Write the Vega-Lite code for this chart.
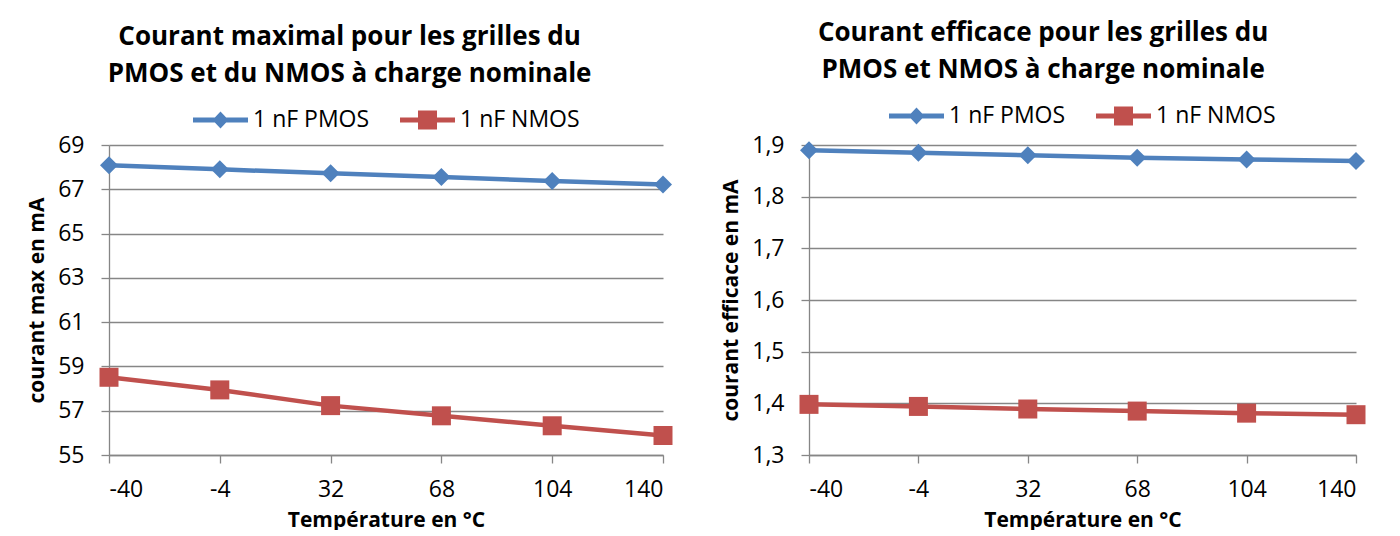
{
  "$schema": "https://vega.github.io/schema/vega-lite/v6.json",
  "padding": {"left": 26, "top": 20, "right": 0, "bottom": 0},
  "background": "white",
  "datasets": {
    "max": [
      {"temperature": -40, "courant": 68.09, "serie": "1 nF PMOS"},
      {"temperature": -4, "courant": 67.9, "serie": "1 nF PMOS"},
      {"temperature": 32, "courant": 67.72, "serie": "1 nF PMOS"},
      {"temperature": 68, "courant": 67.55, "serie": "1 nF PMOS"},
      {"temperature": 104, "courant": 67.37, "serie": "1 nF PMOS"},
      {"temperature": 140, "courant": 67.22, "serie": "1 nF PMOS"},
      {"temperature": -40, "courant": 58.51, "serie": "1 nF NMOS"},
      {"temperature": -4, "courant": 57.94, "serie": "1 nF NMOS"},
      {"temperature": 32, "courant": 57.23, "serie": "1 nF NMOS"},
      {"temperature": 68, "courant": 56.77, "serie": "1 nF NMOS"},
      {"temperature": 104, "courant": 56.32, "serie": "1 nF NMOS"},
      {"temperature": 140, "courant": 55.88, "serie": "1 nF NMOS"}
    ],
    "eff": [
      {"temperature": -40, "courant": 1.890, "serie": "1 nF PMOS"},
      {"temperature": -4, "courant": 1.885, "serie": "1 nF PMOS"},
      {"temperature": 32, "courant": 1.880, "serie": "1 nF PMOS"},
      {"temperature": 68, "courant": 1.8755, "serie": "1 nF PMOS"},
      {"temperature": 104, "courant": 1.872, "serie": "1 nF PMOS"},
      {"temperature": 140, "courant": 1.869, "serie": "1 nF PMOS"},
      {"temperature": -40, "courant": 1.398, "serie": "1 nF NMOS"},
      {"temperature": -4, "courant": 1.394, "serie": "1 nF NMOS"},
      {"temperature": 32, "courant": 1.389, "serie": "1 nF NMOS"},
      {"temperature": 68, "courant": 1.385, "serie": "1 nF NMOS"},
      {"temperature": 104, "courant": 1.381, "serie": "1 nF NMOS"},
      {"temperature": 140, "courant": 1.378, "serie": "1 nF NMOS"}
    ]
  },
  "spacing": 47,
  "resolve": {"scale": {"color": "independent", "y": "independent", "x": "independent"}, "legend": {"color": "independent"}},
  "hconcat": [
    {
      "width": 554,
      "height": 310,
      "data": {"name": "max"},
      "title": {"text": ["Courant maximal pour les grilles du", "PMOS et du NMOS à charge nominale"]},
      "encoding": {
        "x": {"field": "temperature", "type": "quantitative", "scale": {"domain": [-40, 140], "nice": false, "zero": false},
              "axis": {"values": [-40, -4, 32, 68, 104, 140], "title": "Température en °C", "grid": false, "labelExpr": "'' + datum.value"}},
        "y": {"field": "courant", "type": "quantitative", "scale": {"domain": [55, 69], "nice": false, "zero": false},
              "axis": {"values": [55, 57, 59, 61, 63, 65, 67, 69], "title": "courant max en mA"}},
        "color": {"field": "serie", "type": "nominal", "sort": ["1 nF PMOS", "1 nF NMOS"],
                  "scale": {"domain": ["1 nF PMOS", "1 nF NMOS"], "range": ["#4F81BD", "#C0504D"]},
                  "legend": {
                    "encode": {"symbols": {"update": {
                      "shape": {"signal": "datum.value === '1 nF PMOS' ? 'M-1,-0.167L0.457,-0.167L0.833,-0.567L1.209,-0.167L2.667,-0.167L2.667,0.167L1.209,0.167L0.833,0.567L0.457,0.167L-1,0.167Z' : 'M-1,-0.167L0.2,-0.167L0.2,-0.633L1.467,-0.633L1.467,-0.167L2.667,-0.167L2.667,0.167L1.467,0.167L1.467,0.633L0.2,0.633L0.2,0.167L-1,0.167Z'"},
                      "fill": {"signal": "datum.value === '1 nF PMOS' ? '#4F81BD' : '#C0504D'"},
                      "fillOpacity": {"value": 1},
                      "opacity": {"value": 1},
                      "strokeWidth": {"value": 0}
                    }}}
                  }}
      },
      "layer": [
        {"mark": {"type": "line", "strokeWidth": 4.5}},
        {"transform": [{"filter": "datum.serie === '1 nF PMOS'"}],
         "mark": {"type": "point", "filled": true, "opacity": 1, "size": 400, "shape": "M0,-0.9L0.9,0L0,0.9L-0.9,0Z"}},
        {"transform": [{"filter": "datum.serie === '1 nF NMOS'"}],
         "mark": {"type": "point", "filled": true, "opacity": 1, "size": 400, "shape": "M-0.95,-0.95H0.95V0.95H-0.95Z"}}
      ]
    },
    {
      "width": 547,
      "height": 310,
      "data": {"name": "eff"},
      "title": {"text": ["Courant efficace pour les grilles du", "PMOS et NMOS à charge nominale"]},
      "encoding": {
        "x": {"field": "temperature", "type": "quantitative", "scale": {"domain": [-40, 140], "nice": false, "zero": false},
              "axis": {"values": [-40, -4, 32, 68, 104, 140], "title": "Température en °C", "grid": false, "labelExpr": "'' + datum.value"}},
        "y": {"field": "courant", "type": "quantitative", "scale": {"domain": [1.3, 1.9], "nice": false, "zero": false},
              "axis": {"values": [1.3, 1.4, 1.5, 1.6, 1.7, 1.8, 1.9], "title": "courant efficace en mA",
                       "labelExpr": "replace(format(datum.value, '.1f'), '.', ',')"}},
        "color": {"field": "serie", "type": "nominal", "sort": ["1 nF PMOS", "1 nF NMOS"],
                  "scale": {"domain": ["1 nF PMOS", "1 nF NMOS"], "range": ["#4F81BD", "#C0504D"]},
                  "legend": {
                    "encode": {"symbols": {"update": {
                      "shape": {"signal": "datum.value === '1 nF PMOS' ? 'M-1,-0.167L0.457,-0.167L0.833,-0.567L1.209,-0.167L2.667,-0.167L2.667,0.167L1.209,0.167L0.833,0.567L0.457,0.167L-1,0.167Z' : 'M-1,-0.167L0.2,-0.167L0.2,-0.633L1.467,-0.633L1.467,-0.167L2.667,-0.167L2.667,0.167L1.467,0.167L1.467,0.633L0.2,0.633L0.2,0.167L-1,0.167Z'"},
                      "fill": {"signal": "datum.value === '1 nF PMOS' ? '#4F81BD' : '#C0504D'"},
                      "fillOpacity": {"value": 1},
                      "opacity": {"value": 1},
                      "strokeWidth": {"value": 0}
                    }}}
                  }}
      },
      "layer": [
        {"mark": {"type": "line", "strokeWidth": 4.5}},
        {"transform": [{"filter": "datum.serie === '1 nF PMOS'"}],
         "mark": {"type": "point", "filled": true, "opacity": 1, "size": 400, "shape": "M0,-0.9L0.9,0L0,0.9L-0.9,0Z"}},
        {"transform": [{"filter": "datum.serie === '1 nF NMOS'"}],
         "mark": {"type": "point", "filled": true, "opacity": 1, "size": 400, "shape": "M-0.95,-0.95H0.95V0.95H-0.95Z"}}
      ]
    }
  ],
  "config": {
    "font": "Open Sans",
    "view": {"stroke": null},
    "title": {"font": "Open Sans", "fontSize": 26, "fontWeight": "bold", "color": "#000", "anchor": "middle", "frame": "bounds", "lineHeight": 37, "offset": 18},
    "axis": {"domainColor": "#868686", "tickColor": "#868686", "gridColor": "#868686", "gridWidth": 1.3, "domainWidth": 1.3, "tickWidth": 1.3, "tickSize": 8,
             "labelFont": "Open Sans", "labelFontSize": 23, "labelColor": "#000", "labelPadding": 15,
             "titleFont": "Open Sans", "titleFontWeight": "bold", "titleFontSize": 21, "titleColor": "#000", "titlePadding": 8},
    "axisY": {"labelPadding": 17, "titlePadding": 10},
    "legend": {"orient": "top", "direction": "horizontal", "title": null, "symbolSize": 900, "labelOffset": 30, "columnPadding": 30,
               "labelFont": "Open Sans", "labelFontSize": 23, "labelColor": "#000", "offset": 13,
               "layout": {"top": {"anchor": "middle"}}}
  }
}
